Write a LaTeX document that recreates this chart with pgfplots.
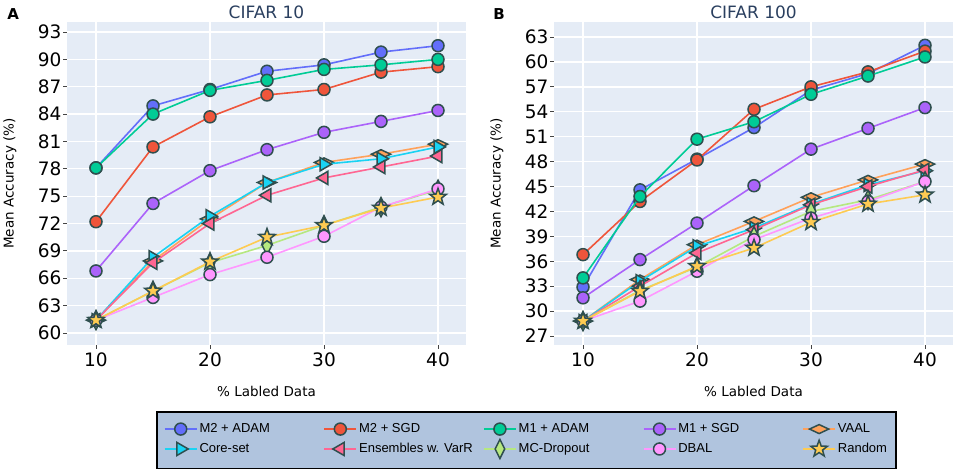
\documentclass[border=0pt]{standalone}
\usepackage{fontspec}
\setmainfont{DejaVu Sans}
\newfontfamily\legfont{Liberation Sans}
\usepackage{pgfplots}
\pgfplotsset{compat=1.18}
\usetikzlibrary{plotmarks}

\definecolor{plotbg}{HTML}{E5ECF6}
\definecolor{edge}{HTML}{2F4F4F}
\definecolor{titlec}{HTML}{2A3F5F}
\definecolor{legbg}{HTML}{B0C4DE}
\definecolor{tickc}{HTML}{444444}
\definecolor{cA}{HTML}{636EFA}
\definecolor{cB}{HTML}{EF553B}
\definecolor{cC}{HTML}{00CC96}
\definecolor{cD}{HTML}{AB63FA}
\definecolor{cE}{HTML}{FFA15A}
\definecolor{cF}{HTML}{19D3F3}
\definecolor{cG}{HTML}{FF6692}
\definecolor{cH}{HTML}{B6E880}
\definecolor{cI}{HTML}{FF97FF}
\definecolor{cJ}{HTML}{FECB52}

% filled five-pointed star
\pgfdeclareplotmark{fstar}{%
  \pgfpathmoveto{\pgfqpointpolar{90}{1.45\pgfplotmarksize}}%
  \pgfpathlineto{\pgfqpointpolar{126}{0.6\pgfplotmarksize}}%
  \pgfpathlineto{\pgfqpointpolar{162}{1.45\pgfplotmarksize}}%
  \pgfpathlineto{\pgfqpointpolar{198}{0.6\pgfplotmarksize}}%
  \pgfpathlineto{\pgfqpointpolar{234}{1.45\pgfplotmarksize}}%
  \pgfpathlineto{\pgfqpointpolar{270}{0.6\pgfplotmarksize}}%
  \pgfpathlineto{\pgfqpointpolar{306}{1.45\pgfplotmarksize}}%
  \pgfpathlineto{\pgfqpointpolar{342}{0.6\pgfplotmarksize}}%
  \pgfpathlineto{\pgfqpointpolar{18}{1.45\pgfplotmarksize}}%
  \pgfpathlineto{\pgfqpointpolar{54}{0.6\pgfplotmarksize}}%
  \pgfpathclose\pgfusepathqfillstroke}
\pgfdeclareplotmark{triright}{%
  \pgfpathmoveto{\pgfqpoint{1.25\pgfplotmarksize}{0pt}}%
  \pgfpathlineto{\pgfqpoint{-0.65\pgfplotmarksize}{1.1\pgfplotmarksize}}%
  \pgfpathlineto{\pgfqpoint{-0.65\pgfplotmarksize}{-1.1\pgfplotmarksize}}%
  \pgfpathclose\pgfusepathqfillstroke}
\pgfdeclareplotmark{trileft}{%
  \pgfpathmoveto{\pgfqpoint{-1.25\pgfplotmarksize}{0pt}}%
  \pgfpathlineto{\pgfqpoint{0.65\pgfplotmarksize}{1.1\pgfplotmarksize}}%
  \pgfpathlineto{\pgfqpoint{0.65\pgfplotmarksize}{-1.1\pgfplotmarksize}}%
  \pgfpathclose\pgfusepathqfillstroke}
\pgfdeclareplotmark{dwide}{%
  \pgfpathmoveto{\pgfqpoint{1.6\pgfplotmarksize}{0pt}}%
  \pgfpathlineto{\pgfqpoint{0pt}{0.75\pgfplotmarksize}}%
  \pgfpathlineto{\pgfqpoint{-1.6\pgfplotmarksize}{0pt}}%
  \pgfpathlineto{\pgfqpoint{0pt}{-0.75\pgfplotmarksize}}%
  \pgfpathclose\pgfusepathqfillstroke}
\pgfdeclareplotmark{dtall}{%
  \pgfpathmoveto{\pgfqpoint{0pt}{1.6\pgfplotmarksize}}%
  \pgfpathlineto{\pgfqpoint{0.8\pgfplotmarksize}{0pt}}%
  \pgfpathlineto{\pgfqpoint{0pt}{-1.6\pgfplotmarksize}}%
  \pgfpathlineto{\pgfqpoint{-0.8\pgfplotmarksize}{0pt}}%
  \pgfpathclose\pgfusepathqfillstroke}

\pgfplotsset{
  ser/.style 2 args={color=#1, line width=1.6pt, mark=#2, mark size=6pt,
    mark options={fill=#1, draw=edge, line width=1.5pt, solid}},
  panel/.style={
    scale only axis, width=399pt, height=323pt,
    clip mode=individual,
    xmin=7.456, xmax=42.456, xtick={10,20,30,40},
    axis background/.style={fill=plotbg},
    axis line style={draw=none},
    grid=major, grid style={white, line width=1.3pt},
    tick align=outside, major tick length=4pt,
    tick style={draw=tickc, line width=0.9pt},
    xtick pos=bottom, ytick pos=left,
    tick label style={font=\fontsize{18.5}{20}\selectfont},
    yticklabel style={xshift=2pt},
    /pgf/number format/assume math mode=true,
    xlabel={\% Labled Data},
    ylabel={Mean Accuracy (\%)},
    label style={font=\fontsize{13.5}{15}\selectfont},
    xlabel style={at={(axis description cs:0.5,-0.1424)}, anchor=center},
    ylabel style={at={(axis description cs:-0.143,0.5)}, anchor=center},
    title style={at={(axis description cs:0.5,1)}, anchor=center, yshift=4pt,
      font=\fontsize{17}{19}\selectfont, text=titlec},
  },
}

\begin{document}
\begin{tikzpicture}
\useasboundingbox (0,0) rectangle (957pt,470pt);

\begin{axis}[panel, at={(67pt,125pt)}, anchor=south west,
  title={CIFAR 10},
  ymin=58.68, ymax=94.10, ytick={60,63,...,93},
  legend columns=5,
  legend cell align=left,
  legend style={at={(axis description cs:1.1516,-0.2043)}, anchor=north,
    fill=legbg, draw=black, line width=1.6pt,
    font=\legfont\fontsize{13}{15}\selectfont,
    inner xsep=7pt, inner ysep=10pt, row sep=3pt,
    /tikz/every even column/.append style={column sep=0pt}},
  legend image code/.code={\draw[mark repeat=2,mark phase=2] plot coordinates {(0pt,0pt) (16pt,0pt) (32pt,0pt)};},
]
\addplot[ser={cA}{*}] coordinates {(10,78.1)(15,84.9)(20,86.7)(25,88.7)(30,89.4)(35,90.8)(40,91.5)};
\addlegendentry{\makebox[122pt][l]{M2 + ADAM}}
\addplot[ser={cB}{*}] coordinates {(10,72.2)(15,80.4)(20,83.7)(25,86.1)(30,86.7)(35,88.6)(40,89.2)};
\addlegendentry{\makebox[122pt][l]{M2 + SGD}}
\addplot[ser={cC}{*}] coordinates {(10,78.1)(15,84.0)(20,86.6)(25,87.7)(30,88.9)(35,89.4)(40,90.0)};
\addlegendentry{\makebox[122pt][l]{M1 + ADAM}}
\addplot[ser={cD}{*}] coordinates {(10,66.8)(15,74.2)(20,77.8)(25,80.1)(30,82.0)(35,83.2)(40,84.4)};
\addlegendentry{\makebox[122pt][l]{M1 + SGD}}
\addplot[ser={cE}{dwide}] coordinates {(10,61.4)(15,67.9)(20,72.5)(25,76.5)(30,78.7)(35,79.6)(40,80.7)};
\addlegendentry{VAAL}
\addplot[ser={cF}{triright}] coordinates {(10,61.4)(15,68.3)(20,72.8)(25,76.5)(30,78.5)(35,79.1)(40,80.4)};
\addlegendentry{\makebox[122pt][l]{Core-set}}
\addplot[ser={cG}{trileft}] coordinates {(10,61.4)(15,67.7)(20,72.0)(25,75.1)(30,77.0)(35,78.2)(40,79.4)};
\addlegendentry{\makebox[122pt][l]{Ensembles w. VarR}}
\addplot[ser={cH}{dtall}] coordinates {(10,61.4)(15,64.6)(20,67.7)(25,69.6)(30,71.8)(35,73.8)(40,75.7)};
\addlegendentry{\makebox[122pt][l]{MC-Dropout}}
\addplot[ser={cI}{*}] coordinates {(10,61.4)(15,63.9)(20,66.4)(25,68.3)(30,70.6)(35,73.8)(40,75.8)};
\addlegendentry{\makebox[122pt][l]{DBAL}}
\addplot[ser={cJ}{fstar}] coordinates {(10,61.4)(15,64.6)(20,67.8)(25,70.5)(30,71.8)(35,73.7)(40,74.9)};
\addlegendentry{Random}
\node[font=\bfseries\fontsize{15}{17}\selectfont] at (axis description cs:-0.135,1.0248) {A};
\end{axis}

\begin{axis}[panel, at={(554pt,125pt)}, anchor=south west,
  title={CIFAR 100},
  ymin=25.92, ymax=64.81, ytick={27,30,...,63},
]
\addplot[ser={cA}{*}] coordinates {(10,32.9)(15,44.6)(20,48.3)(25,52.1)(30,56.6)(35,58.6)(40,62.0)};
\addplot[ser={cB}{*}] coordinates {(10,36.8)(15,43.2)(20,48.2)(25,54.3)(30,57.0)(35,58.8)(40,61.3)};
\addplot[ser={cC}{*}] coordinates {(10,34.0)(15,43.8)(20,50.7)(25,52.8)(30,56.1)(35,58.3)(40,60.6)};
\addplot[ser={cD}{*}] coordinates {(10,31.6)(15,36.2)(20,40.6)(25,45.1)(30,49.5)(35,52.0)(40,54.5)};
\addplot[ser={cE}{dwide}] coordinates {(10,28.8)(15,33.8)(20,38.0)(25,40.8)(30,43.7)(35,45.8)(40,47.7)};
\addplot[ser={cF}{triright}] coordinates {(10,28.8)(15,33.6)(20,37.8)(25,40.0)(30,42.9)(35,45.2)(40,46.9)};
\addplot[ser={cG}{trileft}] coordinates {(10,28.8)(15,33.0)(20,37.0)(25,39.8)(30,42.8)(35,45.0)(40,47.0)};
\addplot[ser={cH}{dtall}] coordinates {(10,28.8)(15,32.5)(20,35.3)(25,39.0)(30,42.0)(35,43.4)(40,45.6)};
\addplot[ser={cI}{*}] coordinates {(10,28.8)(15,31.2)(20,34.8)(25,38.6)(30,41.2)(35,43.2)(40,45.6)};
\addplot[ser={cJ}{fstar}] coordinates {(10,28.8)(15,32.4)(20,35.4)(25,37.6)(30,40.7)(35,42.9)(40,44.0)};
\node[font=\bfseries\fontsize{15}{17}\selectfont] at (axis description cs:-0.1378,1.0248) {B};
\end{axis}
\end{tikzpicture}
\end{document}
